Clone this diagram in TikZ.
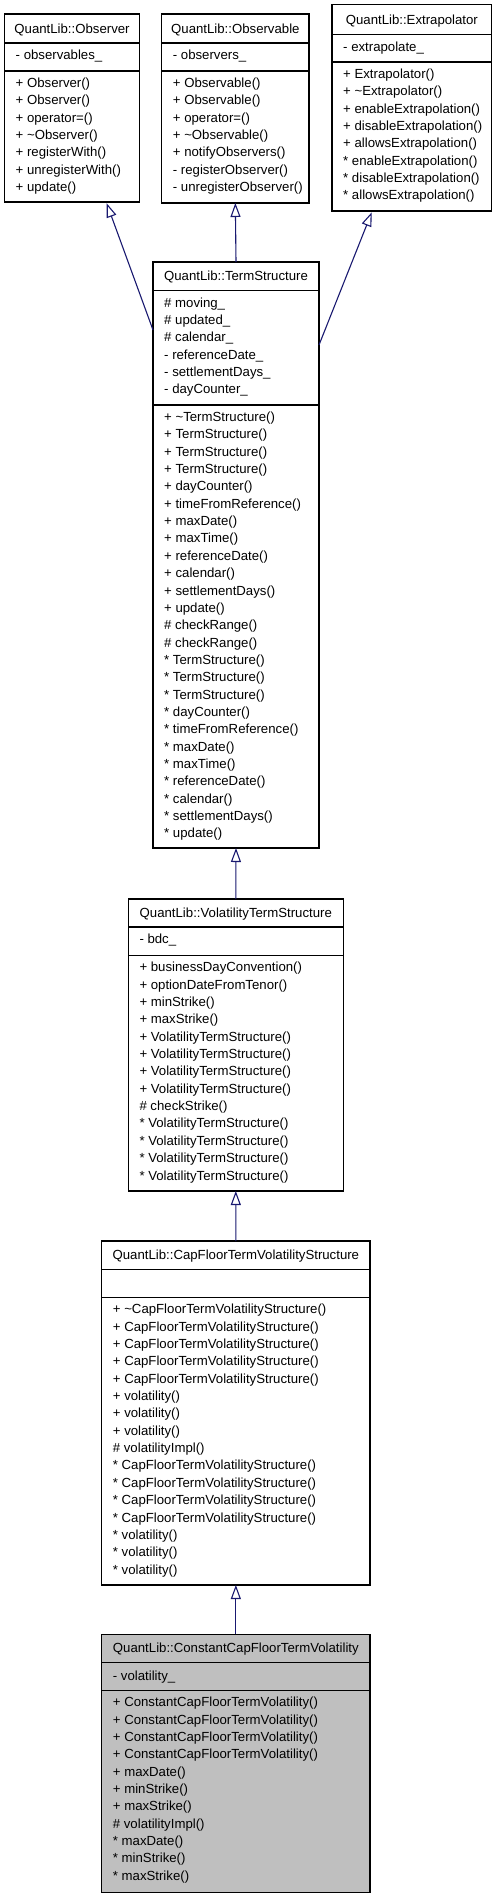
\documentclass[tikz,border=0pt]{standalone}
\usepackage{fontspec}
\setmainfont{Liberation Sans}
\usetikzlibrary{arrows.meta}
\definecolor{edgeblue}{RGB}{25,25,112}
\definecolor{boxgray}{RGB}{191,191,191}
\tikzset{
  umlbox/.style={draw=black, line width=1.1pt, outer sep=0pt, inner sep=0pt},
  umlline/.style={draw=black, line width=1.1pt},
  inh/.style={draw=edgeblue, line width=1.1pt, -{Triangle[open, length=14pt, width=10pt, line width=1.1pt]}},
  txt/.style={inner sep=0pt, font=\fontsize{13.2}{15}\selectfont}
}
\newcommand{\umlrect}[8][white]{%
  \node[umlbox, fill=#1, minimum width={#5-#3}, minimum height={#6-#4}, anchor=north west] (#2) at (#3,#4) {};
  \draw[umlline] (#3,#7) -- (#5,#7);
  \draw[umlline] (#3,#8) -- (#5,#8);
}
\newcommand{\umltitle}[4]{\node[txt, anchor=base] (#1) at ({#2},{#3}) {#4};}
\newcommand{\umllines}[4]{%
  \foreach \s [count=\i] in {#4} {\node[txt, anchor=base west] (#1\i) at ({#2},{#3+(\i-1)*17.35}) {\s};}
}
\begin{document}
\begin{tikzpicture}[x=1pt, y=-1pt]
\useasboundingbox[fill=white] (0,0) rectangle (496,1899);

% Observer
\umlrect{obs}{4.5}{14}{139.5}{202}{43}{71}
\umltitle{obs-t}{72}{33}{QuantLib::Observer}
\umllines{obs-a}{15.5}{59.5}{- observables\_}
\umllines{obs-m}{15.5}{87.5}{+ Observer(), + Observer(), + operator=(), + \textasciitilde Observer(), + registerWith(), + unregisterWith(), + update()}

% Observable
\umlrect{obl}{161.7}{14}{309}{203}{43}{71}
\umltitle{obl-t}{235.35}{33}{QuantLib::Observable}
\umllines{obl-a}{172.7}{59.5}{- observers\_}
\umllines{obl-m}{172.7}{87.5}{+ Observable(), + Observable(), + operator=(), + \textasciitilde Observable(), + notifyObservers(), - registerObserver(), - unregisterObserver()}

% Extrapolator
\umlrect{ext}{332}{4.7}{491.7}{211}{34.7}{62}
\umltitle{ext-t}{411.85}{24.2}{QuantLib::Extrapolator}
\umllines{ext-a}{343}{51.2}{- extrapolate\_}
\umllines{ext-m}{343}{78.5}{+ Extrapolator(), + \textasciitilde Extrapolator(), + enableExtrapolation(), + disableExtrapolation(), + allowsExtrapolation(), * enableExtrapolation(), * disableExtrapolation(), * allowsExtrapolation()}

% TermStructure
\umlrect{ts}{153}{262}{319}{848}{290.5}{405}
\umltitle{ts-t}{236}{280.75}{QuantLib::TermStructure}
\umllines{ts-a}{164}{307}{\# moving\_, \# updated\_, \# calendar\_, - referenceDate\_, - settlementDays\_, - dayCounter\_}
\umllines{ts-m}{164}{421.5}{+ \textasciitilde TermStructure(), + TermStructure(), + TermStructure(), + TermStructure(), + dayCounter(), + timeFromReference(), + maxDate(), + maxTime(), + referenceDate(), + calendar(), + settlementDays(), + update(), \# checkRange(), \# checkRange(), * TermStructure(), * TermStructure(), * TermStructure(), * dayCounter(), * timeFromReference(), * maxDate(), * maxTime(), * referenceDate(), * calendar(), * settlementDays(), * update()}

% VolatilityTermStructure
\umlrect{vts}{128.3}{899}{343.3}{1191}{927}{955.3}
\umltitle{vts-t}{235.8}{917.5}{QuantLib::VolatilityTermStructure}
\umllines{vts-a}{139.3}{943.8}{- bdc\_}
\umllines{vts-m}{139.3}{971.8}{+ businessDayConvention(), + optionDateFromTenor(), + minStrike(), + maxStrike(), + VolatilityTermStructure(), + VolatilityTermStructure(), + VolatilityTermStructure(), + VolatilityTermStructure(), \# checkStrike(), * VolatilityTermStructure(), * VolatilityTermStructure(), * VolatilityTermStructure(), * VolatilityTermStructure()}

% CapFloorTermVolatilityStructure
\umlrect{cf}{101.7}{1241}{370}{1585}{1269.3}{1297.3}
\umltitle{cf-t}{235.85}{1259.65}{QuantLib::CapFloorTermVolatilityStructure}
\umllines{cf-m}{112.7}{1313.8}{+ \textasciitilde CapFloorTermVolatilityStructure(), + CapFloorTermVolatilityStructure(), + CapFloorTermVolatilityStructure(), + CapFloorTermVolatilityStructure(), + CapFloorTermVolatilityStructure(), + volatility(), + volatility(), + volatility(), \# volatilityImpl(), * CapFloorTermVolatilityStructure(), * CapFloorTermVolatilityStructure(), * CapFloorTermVolatilityStructure(), * CapFloorTermVolatilityStructure(), * volatility(), * volatility(), * volatility()}

% ConstantCapFloorTermVolatility
\umlrect[boxgray]{ccf}{101.7}{1634.3}{370}{1892.7}{1662.3}{1690.3}
\umltitle{ccf-t}{235.85}{1652.8}{QuantLib::ConstantCapFloorTermVolatility}
\umllines{ccf-a}{112.7}{1680}{- volatility\_}
\umllines{ccf-m}{112.7}{1706.8}{+ ConstantCapFloorTermVolatility(), + ConstantCapFloorTermVolatility(), + ConstantCapFloorTermVolatility(), + ConstantCapFloorTermVolatility(), + maxDate(), + minStrike(), + maxStrike(), \# volatilityImpl(), * maxDate(), * minStrike(), * maxStrike()}

% Inheritance connectors
\draw[inh] ([yshift=-68pt]ts.north west) -- ([xshift=34.7pt, yshift=-1.3pt]obs.south);
\draw[inh] (ts.north) -- (obl.south);
\draw[inh] ([yshift=-83pt]ts.north east) -- ([xshift=-40.1pt, yshift=-1.3pt]ext.south);
\draw[inh] (vts.north) -- (ts.south);
\draw[inh] (cf.north) -- (vts.south);
\draw[inh] (ccf.north) -- (cf.south);
\end{tikzpicture}
\end{document}
